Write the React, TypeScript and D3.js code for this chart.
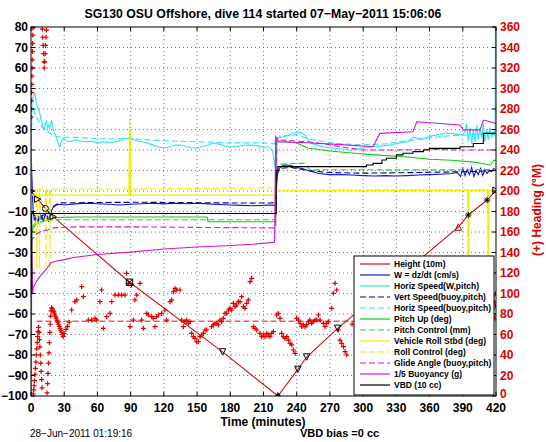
import React from 'react';
import * as d3 from 'd3';

type P = [number, number];

const xTickVals = [0, 30, 60, 90, 120, 150, 180, 210, 240, 270, 300, 330, 360, 390, 420];
const yTickVals = [-100, -90, -80, -70, -60, -50, -40, -30, -20, -10, 0, 10, 20, 30, 40, 50, 60, 70, 80];
const hTickVals = [0, 20, 40, 60, 80, 100, 120, 140, 160, 180, 200, 220, 240, 260, 280, 300, 320, 340, 360];

const titleText = 'SG130 OSU Offshore, dive 114 started 07\u2212May\u22122011 15:06:06';

const height10m: P[] = [[0, 0], [6, -4], [13, -8.5], [20, -12.5], [89, -44.5], [173, -78.5], [223, -100], [241, -87], [249, -81], [277, -67], [386, -17.6], [395, -11.7], [412, -4.4], [420, 0.3]];
const heightMarks: [number, number, string][] = [[0, 0, 'right'], [6, -4, 'right'], [13, -8.5, 'circle'], [20, -12.5, 'right'], [89, -44.5, 'square'], [173, -78.5, 'down'], [223, -100, 'filled'], [241, -87, 'down'], [249, -81, 'down'], [277, -67, 'down'], [386, -17.6, 'up'], [395, -11.7, 'star'], [412, -4.4, 'star'], [420, 0.3, 'right']];

const wDzDt: P[] = [[0, 20], [0.5, 12], [1, 4], [1.5, -4], [2, -10], [3, -14], [4, -13], [5, -16], [6, -12], [7, -15], [8, -11], [9, -14], [10, -12], [11, -15], [12, -13], [13, -11], [14, -14], [15, -12], [16, -15], [17, -13], [18, -11], [19, -9], [20, -8], [21, -7], [23, -6.8], [26, -6.5], [30, -6.8], [40, -6.3], [50, -6], [60, -6.2], [70, -6.5], [80, -6.8], [90, -6.5], [100, -6.2], [110, -6], [120, -6.3], [130, -6], [140, -6.2], [150, -6], [160, -6.3], [170, -6.6], [180, -6.8], [190, -7], [200, -7.2], [210, -7], [215, -6.8], [220, -7], [221, -6.5], [222, 4], [223, 10], [225, 11.5], [228, 12.5], [232, 12.7], [236, 12.2], [240, 11.5], [245, 11], [250, 10], [255, 9.3], [260, 8.5], [270, 8], [280, 8], [290, 7.8], [300, 7.5], [310, 7.3], [320, 7.5], [330, 7.3], [340, 7.5], [350, 7.8], [360, 8], [370, 8.2], [380, 8.5], [385, 9], [388, 7], [390, 11], [392, 7.5], [394, 10.5], [396, 8], [398, 11.5], [400, 7], [402, 10], [404, 8], [406, 11], [408, 7.5], [410, 10.5], [412, 8.5], [414, 10], [416, 9.5], [418, 11], [420, 10]];

const horizSpeedW: P[] = [[0, 0], [0.5, 30], [1, 44], [2, 46], [3.6, 47.8], [5, 42], [6.5, 40], [8, 38], [9, 35], [10, 33], [11, 31], [12, 29.8], [13, 33], [14, 34], [15, 31], [16, 32], [17, 30.5], [18.5, 34.6], [20, 30], [21.7, 28], [23, 26], [24, 24], [26, 21.5], [27.5, 24], [29, 25.8], [32, 24.5], [35, 24], [40, 25], [44, 24.5], [50, 24], [55, 24.2], [60, 23.5], [65, 24], [70, 23.7], [75, 23.8], [80, 24.5], [85, 25.5], [89, 25.8], [93, 25], [97, 24.2], [100, 24], [105, 23.4], [110, 22.5], [115, 21.5], [120, 21], [125, 21.5], [130, 22.4], [135, 22.4], [140, 21.8], [145, 21], [150, 21], [155, 21.6], [160, 22.4], [165, 23.4], [170, 22.8], [175, 22], [180, 21.5], [185, 21.8], [190, 22], [195, 22.4], [200, 22.4], [205, 22], [210, 21.5], [215, 21.5], [218, 20], [219.5, 15], [220.5, 11.7], [221.5, 25], [224, 26], [228, 26.5], [232, 27], [236, 28], [240, 28.8], [244, 28.5], [248, 27], [252, 23.4], [258, 22.5], [265, 21.5], [272, 21], [280, 20.5], [288, 20], [295, 20.5], [300, 21], [308, 21.5], [318, 22], [325, 22.5], [333, 23.4], [340, 24], [345, 26.3], [348, 26], [352, 25], [357, 26], [363, 27], [369, 27.5], [375, 28.3], [381, 28], [387, 27.5], [390, 27.5], [392, 28.8], [393.5, 33], [395, 24], [396.5, 31], [398, 23], [399.5, 30], [401, 24], [402.5, 32], [404, 25], [405.5, 31], [407, 26], [408.5, 33], [410, 24], [411.5, 30], [413, 25], [414.5, 31], [416, 26], [417.5, 29], [418.5, 27], [419.3, 30], [419.6, 120]];

const vertSpeedBuoy: P[] = [[1, -10], [3, -12], [6, -12.5], [10, -12], [15, -11], [20, -8], [25, -5.8], [60, -5.6], [100, -5.5], [150, -5.7], [200, -5.9], [221, -5.8], [222, 8], [225, 11], [235, 11.5], [250, 10], [270, 9], [300, 8.7], [350, 9], [400, 9.5], [420, 10]];

const horizSpeedBuoy: P[] = [[2, 40], [5, 36], [10, 31], [15, 29], [20, 27], [25, 26.5], [30, 26.3], [45, 26], [60, 25.5], [90, 25.5], [120, 24.5], [150, 24], [180, 23.5], [210, 23.5], [220, 23], [221.5, 26], [230, 27], [240, 27.5], [250, 25.5], [265, 24], [280, 23], [300, 22.5], [320, 23], [340, 24.5], [360, 26], [380, 27], [400, 27.5], [420, 28]];

const pitchUp: P[] = [[0, -120], [0.8, -20], [2, -18], [5, -16], [10, -15], [15, -14], [20, -13], [40, -12.7], [100, -12.7], [159, -12.7], [160, -15], [221, -15], [222, 24], [230, 24], [240, 23.4], [250, 21], [270, 19.5], [290, 18.5], [310, 17.6], [340, 16.6], [360, 15.5], [380, 15], [400, 14.1], [410, 13.2], [415, 12.7], [418, 15], [420, 15]];

const pitchControl: P[] = [[0.5, -18], [3, -16], [10, -15], [20, -14], [100, -14], [160, -14], [221, -14], [222, 13], [240, 13.5], [247, 13.5], [252, 10.3], [290, 10.4], [330, 10.3], [380, 10.3], [420, 10.5]];

const vehicleRoll: P[] = [[0, 0], [1, -2], [88.5, -2], [89, 35], [89.4, -2], [89.8, 30], [90.2, -2], [221, -2], [222, 0], [230, 0], [300, 0.3], [394.5, 0.3], [395, -60], [395.5, 0.3], [412.5, 0.3], [413, -60], [413.5, 0.3], [420, 0.5]];

const rollControl: P[] = [[0, 0], [4.8, 1], [5.2, -38], [6, 1], [7.5, 1], [7.8, -38], [8.2, 1], [13.2, 1], [13.5, -38], [14, 1], [16.8, 1], [17.1, -38], [17.5, 1], [88.8, 1], [89.2, 30], [89.6, 1], [221, 1.5], [222, 0.5], [394.8, 0.5], [395.2, -60], [395.6, 0.5], [412.8, 0.5], [413.2, -60], [413.6, 0.5], [420, 0.5]];

const glideAngle: P[] = [[0, -25], [2, -23], [5, -21], [10, -19.5], [15, -19], [20, -18], [40, -17.5], [100, -17.5], [160, -17.8], [221, -18], [222, 25], [235, 24.5], [250, 24], [265, 23], [280, 21.5], [300, 20], [330, 20], [360, 20.3], [390, 20], [420, 20]];

const buoyancy: P[] = [[0, -10], [0.8, -30], [1.5, -50], [2, -47], [4, -45], [7, -42.5], [9, -41], [14, -38], [18, -35], [22, -34.3], [29, -33.6], [40, -32.3], [60, -31], [90, -29.8], [120, -28.3], [150, -27.3], [180, -26.6], [200, -26], [220, -25], [221, 26.5], [224, 24], [250, 23.5], [280, 22.6], [309, 21.6], [315, 28.1], [345, 28.9], [348.5, 33.8], [387.5, 32.2], [390.5, 29.8], [405.6, 29.8], [408.6, 34.6], [420, 33]];

const vbd: P[] = [[0, -50], [0.6, -11], [221.5, 10], [223, 11.9], [303, 12.7], [309, 13.5], [317, 15.1], [321, 16], [330, 17.6], [336, 18.4], [345, 19.2], [354.5, 20], [360, 20.8], [387.5, 21.6], [399.5, 23.2], [408.6, 28.1], [420, 28.1]];

const headingTarget = 73;

const heading: P[] = [
  [0.1, 272], [0.25, 280], [0.4, 288], [0.55, 296], [0.7, 304], [0.85, 312], [1.0, 320], [1.15, 328], [1.3, 336], [1.45, 344], [1.6, 352], [1.75, 359],
  [2.0, 2], [2.4, 6], [2.8, 10], [3.2, 15], [3.6, 21], [4.0, 27], [4.4, 33], [4.8, 40], [5.2, 46], [5.6, 52], [6.0, 58], [6.4, 63], [6.8, 67],
  [7.2, 62], [7.6, 55], [8.0, 48], [8.4, 40], [8.8, 32], [9.2, 24], [9.6, 16], [10.0, 8],
  [10.2, 358], [10.6, 350], [11.0, 342], [11.4, 334], [11.8, 326], [12.0, 320], [12.4, 326], [12.8, 334], [13.2, 342], [13.6, 350], [14.0, 357],
  [14.5, 3], [15.0, 12], [15.4, 22], [15.8, 32], [16.2, 42], [16.6, 52], [17.0, 62], [17.4, 70], [17.8, 78], [18.2, 83], [18.6, 86],
  [19.3, 85], [20, 83], [20.7, 82], [21.4, 80], [22.1, 78], [22.8, 76], [23.5, 74], [24.2, 72], [24.9, 70], [25.6, 68], [26.3, 66], [27, 64], [27.7, 62], [28.4, 60], [29.1, 58],
  [30, 61], [31.5, 65], [33, 68], [34.5, 72],
  [36.7, 83.9], [39.7, 92.0], [41.3, 93.7], [45.8, 106.7], [47.3, 96.9], [51.8, 74.1], [54.8, 74.1], [57.8, 75.8], [59.3, 74.1], [62.3, 92.0], [63.8, 103.4], [65.3, 66.0], [68.4, 77.4], [71.4, 80.6], [72.9, 92.0], [75.9, 98.5], [78.9, 98.5], [81.9, 98.5], [84.9, 98.5], [86.4, 119.7], [87.9, 109.9], [89.4, 67.6], [90.9, 108.3], [92.4, 74.1], [93.9, 93.7], [95.5, 98.5], [98.5, 109.9], [100.0, 74.1], [101.5, 66.0], [104.5, 80.6], [106.0, 79.0], [109.0, 77.4], [110.5, 75.8], [112.0, 67.6], [113.5, 77.4], [115.0, 79.0], [118.0, 80.6], [121.0, 83.9], [122.6, 74.1], [125.6, 92.0], [127.1, 93.7], [128.6, 101.8], [130.1, 105.0], [131.6, 103.4], [134.6, 103.4], [136.1, 74.1], [137.6, 67.6], [139.1, 72.5], [140.6, 74.1], [142.1, 70.9], [143.6, 72.5], [145.1, 61.1], [146.6, 57.9], [148.1, 56.3], [149.7, 53.0], [151.2, 53.0], [152.7, 57.9], [154.2, 59.5], [155.7, 61.1], [157.2, 64.4], [158.7, 64.4], [163.2, 67.6], [164.7, 69.3], [166.2, 70.9], [167.7, 70.9], [169.2, 69.3], [170.7, 74.1], [172.2, 72.5], [173.7, 75.8], [175.2, 80.6], [176.8, 80.6], [178.3, 83.9], [179.8, 85.5], [181.3, 83.9], [182.8, 90.4], [184.3, 87.2], [185.8, 88.8], [187.3, 92.0], [188.8, 92.0], [190.3, 96.9], [191.8, 87.2], [193.3, 85.5], [194.8, 90.4], [196.3, 93.7], [197.8, 111.5], [199.3, 114.8], [200.8, 67.6], [202.3, 66.0], [203.9, 64.4], [206.9, 61.1], [208.4, 57.9], [209.9, 59.5], [211.4, 57.9], [212.9, 61.1], [214.4, 59.5], [215.9, 57.9], [217.4, 61.1], [218.9, 62.8], [221.9, 79.0], [223.4, 80.6], [224.9, 75.8], [226.4, 61.1], [227.9, 57.9], [229.4, 56.3], [231.0, 57.9], [232.5, 54.6], [234.0, 51.4], [235.5, 49.8], [237.0, 44.9], [238.5, 41.6], [240.0, 75.8], [241.5, 74.1], [243.0, 70.9], [244.5, 67.6], [246.0, 69.3], [247.5, 67.6], [249.0, 69.3], [250.5, 72.5], [252.0, 74.1], [253.5, 70.9], [255.0, 72.5], [256.5, 74.1], [258.1, 74.1], [259.6, 79.0], [261.1, 74.1], [264.1, 70.9], [265.6, 67.6], [267.1, 70.9], [268.6, 72.5], [271.6, 85.5], [273.1, 100.2], [274.6, 109.9], [276.1, 103.4], [277.6, 64.4], [279.1, 54.6], [280.6, 51.4], [282.2, 48.1], [283.7, 43.3], [285.2, 40.0],
  [290, 70], [300, 80], [310, 75], [320, 90], [330, 85], [340, 70], [350, 95], [360, 80], [370, 75], [380, 85], [390, 90], [400, 80], [410, 85],
  [416, 95], [416.5, 90], [417, 85], [417.5, 80], [418, 98], [418.5, 92], [419, 76], [419.5, 88], [419.8, 100]
];

type Series = { label: string; data: P[]; color: string; dash?: string; step?: boolean };

const series: Series[] = [
  { label: 'Height (10m)', data: height10m, color: '#c81414' },
  { label: 'W = dz/dt (cm/s)', data: wDzDt, color: '#1414d2' },
  { label: 'Horiz Speed(W,pitch)', data: horizSpeedW, color: '#30e4f0' },
  { label: 'Vert Speed(buoy,pitch)', data: vertSpeedBuoy, color: '#000096', dash: '6 3' },
  { label: 'Horiz Speed(buoy,pitch)', data: horizSpeedBuoy, color: '#30e4f0', dash: '6 3' },
  { label: 'Pitch Up (deg)', data: pitchUp, color: '#14c814' },
  { label: 'Pitch Control (mm)', data: pitchControl, color: '#30d030', dash: '6 3' },
  { label: 'Vehicle Roll Stbd (deg)', data: vehicleRoll, color: '#f0f000' },
  { label: 'Roll Control (deg)', data: rollControl, color: '#f0f000', dash: '6 3' },
  { label: 'Glide Angle (buoy,pitch)', data: glideAngle, color: '#e014e0', dash: '6 3' },
  { label: '1/5 Buoyancy (g)', data: buoyancy, color: '#d214d2' },
  { label: 'VBD (10 cc)', data: vbd, color: '#000000', step: true },
];

const FONT = '"Liberation Sans", Arial, Helvetica, sans-serif';

export default function App() {
  const X0 = 31, X1 = 496, Y0 = 27, Y1 = 396;
  const x = d3.scaleLinear().domain([0, 420]).range([X0, X1]);
  const y = d3.scaleLinear().domain([-100, 80]).range([Y1, Y0]);
  const yh = d3.scaleLinear().domain([0, 360]).range([Y1, Y0]);
  const lin = d3.line<P>().x(d => x(d[0])).y(d => y(d[1]));
  const stp = d3.line<P>().x(d => x(d[0])).y(d => y(d[1])).curve(d3.curveStepAfter);

  const markerPath = (shape: string) => {
    const s = 3.2;
    switch (shape) {
      case 'right': return `M${-s},${-s}L${s},0L${-s},${s}Z`;
      case 'down': return `M${-s},${-s}L${s},${-s}L0,${s}Z`;
      case 'up': return `M${-s},${s}L${s},${s}L0,${-s}Z`;
      case 'square': return `M${-s},${-s}h${2 * s}v${2 * s}h${-2 * s}Z M${-s},${-s}L${s},${s}M${s},${-s}L${-s},${s}`;
      case 'star': return `M${-s},0H${s}M0,${-s}V${s}M${-s * 0.7},${-s * 0.7}L${s * 0.7},${s * 0.7}M${s * 0.7},${-s * 0.7}L${-s * 0.7},${s * 0.7}`;
      default: return '';
    }
  };

  const legendX = 354, legendY = 256, legendW = 140, legendH = 139;

  return (
    <svg width={546} height={442} style={{ position: 'absolute', left: 0, top: 0, background: '#fff' }} fontFamily={FONT}>
      <defs>
        <clipPath id="plotClip"><rect x={X0} y={Y0} width={X1 - X0} height={Y1 - Y0} /></clipPath>
      </defs>
      <rect x={0} y={0} width={546} height={442} fill="#fff" />
      {/* grid */}
      <g stroke="#222" strokeWidth={0.8} strokeDasharray="1 3" opacity={0.75}>
        {xTickVals.slice(1, -1).map(t => <line key={'gx' + t} x1={x(t)} x2={x(t)} y1={Y0} y2={Y1} />)}
        {yTickVals.slice(1, -1).map(t => <line key={'gy' + t} x1={X0} x2={X1} y1={y(t)} y2={y(t)} />)}
      </g>
      {/* series */}
      <g clipPath="url(#plotClip)" fill="none">
        {series.map((s, i) => (
          <path key={'s' + i} d={(s.step ? stp : lin)(s.data) || ''} stroke={s.color} strokeWidth={1.1} strokeDasharray={s.dash} />
        ))}
        <line x1={x(5)} x2={X1} y1={yh(headingTarget)} y2={yh(headingTarget)} stroke="#dd1111" strokeWidth={1} strokeDasharray="6 3" />
        {heading.map((d, i) => (
          <path key={'h' + i} transform={`translate(${x(d[0])},${yh(d[1])})`} d="M-2.5,0H2.5M0,-2.5V2.5" stroke="#e00000" strokeWidth={1.2} />
        ))}
        {heightMarks.map((m, i) => {
          const cx = x(m[0]), cy = y(m[1]);
          if (m[2] === 'circle') return <circle key={'m' + i} cx={cx} cy={cy} r={3} stroke="#000" fill="none" />;
          if (m[2] === 'filled') return <g key={'m' + i}><path transform={`translate(${cx},${cy})`} d="M-4,3L4,3L0,-4Z" fill="#000" /><path transform={`translate(${cx},${cy})`} d={markerPath('star')} stroke="#000" /></g>;
          return <path key={'m' + i} transform={`translate(${cx},${cy})`} d={markerPath(m[2])} stroke={m[2] === 'up' ? '#a01010' : '#000'} strokeWidth={1} fill="none" />;
        })}
      </g>
      {/* axes box */}
      <rect x={X0} y={Y0} width={X1 - X0} height={Y1 - Y0} fill="none" stroke="#000" strokeWidth={1} />
      <g stroke="#000" strokeWidth={1}>
        {xTickVals.map(t => <line key={'tb' + t} x1={x(t)} x2={x(t)} y1={Y1} y2={Y1 - 4} />)}
        {xTickVals.map(t => <line key={'tt' + t} x1={x(t)} x2={x(t)} y1={Y0} y2={Y0 + 4} />)}
        {yTickVals.map(t => <line key={'tl' + t} x1={X0} x2={X0 + 4} y1={y(t)} y2={y(t)} />)}
        {hTickVals.map(t => <line key={'tr' + t} x1={X1} x2={X1 - 4} y1={yh(t)} y2={yh(t)} />)}
      </g>
      {/* tick labels */}
      <g fontSize={12} fontWeight="bold" fill="#000">
        {xTickVals.map(t => <text key={'xl' + t} x={x(t)} y={412} textAnchor="middle">{t}</text>)}
        {yTickVals.map(t => <text key={'yl' + t} x={28} y={y(t)} dy="0.36em" textAnchor="end">{t < 0 ? '\u2212' + Math.abs(t) : t}</text>)}
      </g>
      <g fontSize={12} fontWeight="bold" fill="#dd0000">
        {hTickVals.map(t => <text key={'hl' + t} x={500} y={yh(t)} dy={t === 0 ? '0.2em' : '0.36em'}>{t}</text>)}
      </g>
      <text x={263} y={18} textAnchor="middle" fontSize={12.3} fontWeight="bold">{titleText}</text>
      <text x={263} y={426} textAnchor="middle" fontSize={12} fontWeight="bold">Time (minutes)</text>
      <text transform="translate(541,210) rotate(-90)" textAnchor="middle" fontSize={12} fontWeight="bold" fill="#dd0000">(+) Heading (°M)</text>
      <text x={30} y={437} fontSize={10} fill="#000">28−Jun−2011 01:19:16</text>
      <text x={300} y={437} fontSize={11} fontWeight="bold" fill="#000">VBD bias =0 cc</text>
      {/* legend */}
      <g>
        <rect x={legendX} y={legendY} width={legendW} height={legendH} fill="#fff" stroke="#000" strokeWidth={1} />
        {series.map((s, i) => {
          const cy = legendY + 8 + i * 11;
          return (
            <g key={'lg' + i}>
              <line x1={legendX + 6} x2={legendX + 36} y1={cy} y2={cy} stroke={s.color} strokeWidth={1.2} strokeDasharray={s.dash} />
              <text x={legendX + 40} y={cy} dy="0.35em" fontSize={8.5} fontWeight="bold" fill="#000">{s.label}</text>
            </g>
          );
        })}
      </g>
    </svg>
  );
}
